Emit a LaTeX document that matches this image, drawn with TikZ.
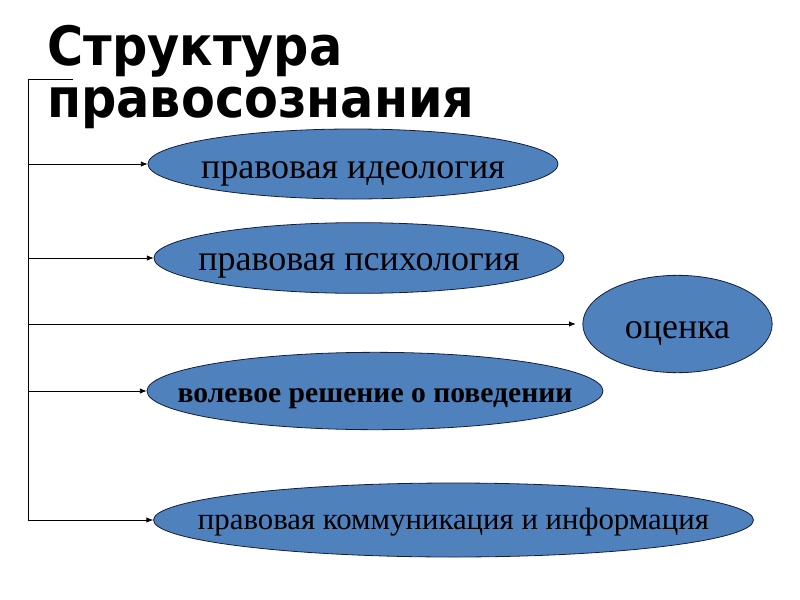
\documentclass[tikz,border=0pt]{standalone}
\usepackage{graphicx}
\usepackage{fontspec}
\setmainfont{Liberation Serif}
\newfontfamily\titlefont{DejaVu Sans}
\usetikzlibrary{shapes.geometric,arrows.meta}

\definecolor{ovalblue}{RGB}{79,129,189}
\definecolor{ovalline}{RGB}{20,30,60}
\newcommand\ovaltext[1]{\makebox[0pt]{#1}}
\newcommand\tallhead[1]{\scalebox{1}[1.1]{#1}}

\begin{document}
\begin{tikzpicture}[x=0.75pt,y=-0.75pt,
	oval/.style={ellipse,draw=ovalline,fill=ovalblue,inner sep=0pt,line width=0.6pt,text depth=0pt},
	label27/.style={font=\fontsize{27}{31}\selectfont},
	feed/.style={-{Latex[length=5pt,width=4pt]},line width=0.6pt},
	heading/.style={anchor=base west,inner sep=0pt,font=\titlefont\bfseries\fontsize{37}{41}\selectfont}]
	\useasboundingbox (0,0) rectangle (800,600);
	% title
	\node [heading] (title1) at (47,65) {\tallhead{Структура}};
	\node [heading] (title2) at (47,117) {\tallhead{правосознания}};
	% ovals
	\node [oval,label27,text height=21pt,minimum width=307.5pt,minimum height=52.5pt] (ideol) at (353,164) {\ovaltext{правовая идеология}};
	\node [oval,label27,text height=18pt,minimum width=307.5pt,minimum height=53pt] (psych) at (359,258) {\ovaltext{правовая психология}};
	\node [oval,label27,text height=21pt,minimum width=142pt,minimum height=73pt] (ocenka) at (677.5,324) {\ovaltext{оценка}};
	\node [oval,font=\bfseries\fontsize{22.2}{26}\selectfont,text height=16.5pt,minimum width=342pt,minimum height=58pt] (volya) at (375,391) {\ovaltext{волевое решение о поведении}};
	\node [oval,font=\fontsize{23.1}{27}\selectfont,text height=13.5pt,minimum width=450pt,minimum height=55.5pt] (komm) at (453.5,520) {\ovaltext{правовая коммуникация и информация}};
	% trunk
	\coordinate (stub) at (73,79);
	\coordinate (corner) at (28,79);
	\coordinate (foot) at (28,520);
	\draw [line width=0.6pt] (stub) -- (corner) -- (foot);
	% arrows
	\draw [feed] (ideol.west -| corner) -- (ideol.west);
	\draw [feed] (psych.west -| corner) -- (psych.west);
	\draw [feed,shorten >=5pt] (ocenka.west -| corner) -- (ocenka.west);
	\draw [feed] (volya.west -| corner) -- (volya.west);
	\draw [feed] (komm.west -| corner) -- (komm.west);
\end{tikzpicture}
\end{document}
